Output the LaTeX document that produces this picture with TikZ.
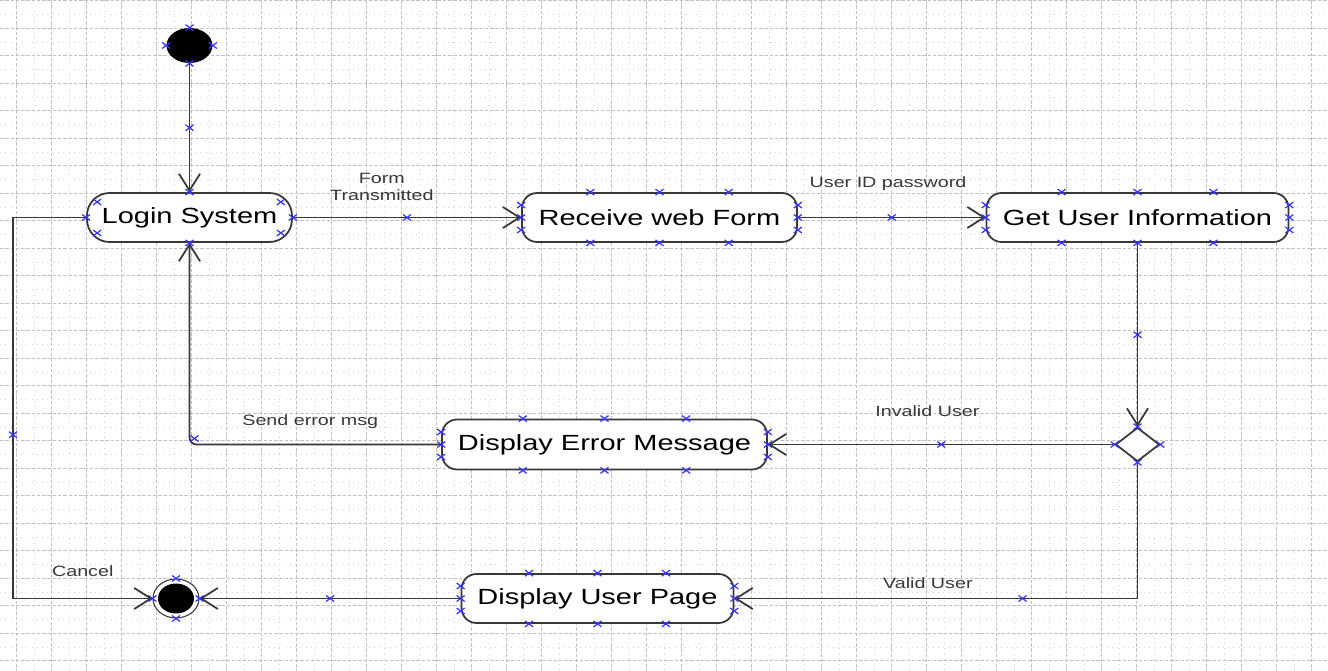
\documentclass[tikz,border=0pt]{standalone}
\usepackage{fontspec}
\setmainfont{Liberation Sans}
\usetikzlibrary{arrows.meta,shapes.geometric,calc}
\definecolor{linecol}{HTML}{383838}
\definecolor{labelcol}{HTML}{383838}
\definecolor{handlecol}{HTML}{3535FF}
\definecolor{gridcol}{HTML}{C2C2C2}
\newcommand{\wide}[1]{\scalebox{1.32}[1]{#1}}
\tikzset{
  activity/.style={draw=linecol, line width=1pt, rounded corners=0.3cm, fill=white, inner sep=0pt,
    minimum height=0.98cm, font=\fontsize{12.5}{15}\selectfont},
  flow/.style={draw=linecol, line width=1pt, -{Straight Barb[length=9.5pt,width=12pt,line width=1pt]}},
  lbl/.style={text=labelcol, font=\fontsize{8.5}{10.2}\selectfont, inner sep=0pt, align=center},
  majorgrid/.style={draw=gridcol, line width=0.5pt, dash pattern=on 2pt off 1pt},
  minorgrid/.style={draw=gridcol!70, line width=0.5pt, dash pattern=on 0.5pt off 2.5pt},
  hx/.pic={\draw[handlecol, line width=0.7pt] (-4,-3) -- (4,3) (-4,3) -- (4,-3);}
}
\begin{document}
\begin{tikzpicture}[x=0.02cm, y=-0.02cm]
   \useasboundingbox (0,0) rectangle (1328,671);
   \fill[white] (0,0) rectangle (1328,671);
   % grid
   \foreach \gx in {0,...,37} {
     \draw[minorgrid] ({34.2+35*\gx},0) -- ++(0,671);
     \draw[majorgrid] ({16.7+35*\gx},0) -- ++(0,671);
   }
   \foreach \gy in {0,...,24} {
     \draw[minorgrid] (0,{14.55+27.5*\gy}) -- ++(1328,0);
     \draw[majorgrid] (0,{0.8+27.5*\gy}) -- ++(1328,0);
   }
   % activities
   \node[ellipse, fill=black, minimum width=0.92cm, minimum height=0.7cm, inner sep=0pt] (start) at (189.5,45.5) {};
   \node[activity, rounded corners=0.45cm, minimum width=4.1cm] (login) at (189.5,217.5) {\wide{Login System}};
   \node[activity, minimum width=5.5cm] (receive) at (659.5,217.5) {\wide{Receive web Form}};
   \node[activity, minimum width=6.04cm] (getinfo) at (1137.5,217.5) {\wide{Get User Information}};
   \node[diamond, draw=linecol, line width=1pt, fill=white, minimum width=0.88cm, minimum height=0.68cm, inner sep=0pt] (decide) at (1137.5,444.5) {};
   \node[activity, minimum width=6.5cm, minimum height=1cm] (showerr) at (604.5,444.5) {\wide{Display Error Message}};
   \node[activity, minimum width=5.44cm] (showpage) at (597.5,598.5) {\wide{Display User Page}};
   \node[ellipse, draw=linecol, line width=0.6pt, fill=white, minimum width=0.92cm, minimum height=0.78cm, inner sep=0pt,
     path picture={\fill[black] (path picture bounding box.center) ellipse (0.36cm and 0.3cm);}] (stop) at (176,598.5) {};
   \coordinate (cancelbend) at (13,217.5);
   % transitions
   \draw[flow] (start) -- (login);
   \draw[flow] (login) -- node[lbl, pos=.39, yshift=17.4pt] (lform) {\wide{Form}\\\wide{Transmitted}} (receive);
   \draw[flow] (receive) -- node[lbl, pos=.48, yshift=19pt] (luser) {\wide{User ID password}} (getinfo);
   \draw[flow] (getinfo) -- (decide);
   \draw[flow] (decide) -- node[lbl, pos=.54, yshift=18.8pt] (linvalid) {\wide{Invalid User}} (showerr);
   \draw[flow, rounded corners=4pt] (showerr) -| node[lbl, pos=.26, yshift=13pt] (lsend) {\wide{Send error msg}} (login);
   \draw[flow] (decide) |- node[lbl, pos=.76, yshift=8.8pt] (lvalid) {\wide{Valid User}} (showpage);
   \draw[flow] (showpage) -- (stop);
   \draw[flow] (login) -- (cancelbend) |- node[lbl, pos=.75, yshift=15.4pt] (lcancel) {\wide{Cancel}} (stop);
   % selection handles
   \foreach \a in {north,south,east,west} {
     \pic at (start.\a) {hx};
     \pic at (login.\a) {hx};
     \pic at (decide.\a) {hx};
     \pic at (stop.\a) {hx};
   }
   \foreach \dy in {-15.5,15.5} {
     \pic at ($(login.west)+(11,\dy)$) {hx};
     \pic at ($(login.east)+(-12,\dy)$) {hx};
   }
   \foreach \n in {receive,getinfo,showerr,showpage} {
     \foreach \f in {.25,.5,.75} {
       \pic at ($(\n.north west)!\f!(\n.north east)$) {hx};
       \pic at ($(\n.south west)!\f!(\n.south east)$) {hx};
     }
     \foreach \dy in {-12.5,0,12.5} {
       \pic at ($(\n.west)+(0,\dy)$) {hx};
       \pic at ($(\n.east)+(0,\dy)$) {hx};
     }
   }
   \pic at ($(start.south)!.5!(login.north)$) {hx};
   \pic at ($(login.east)!.5!(receive.west)$) {hx};
   \pic at ($(receive.east)!.5!(getinfo.west)$) {hx};
   \pic at ($(getinfo.south)!.5!(decide.north)$) {hx};
   \pic at ($(decide.west)!.5!(showerr.east)$) {hx};
   \pic at ($(login.south |- showerr.west)+(5,-6)$) {hx};
   \pic at ($(showpage.east)!.715!(showpage.east -| decide.south)$) {hx};
   \pic at ($(showpage.west)!.5!(stop.east)$) {hx};
   \pic at ($(cancelbend)!.57!(cancelbend |- stop.west)$) {hx};
\end{tikzpicture}
\end{document}
